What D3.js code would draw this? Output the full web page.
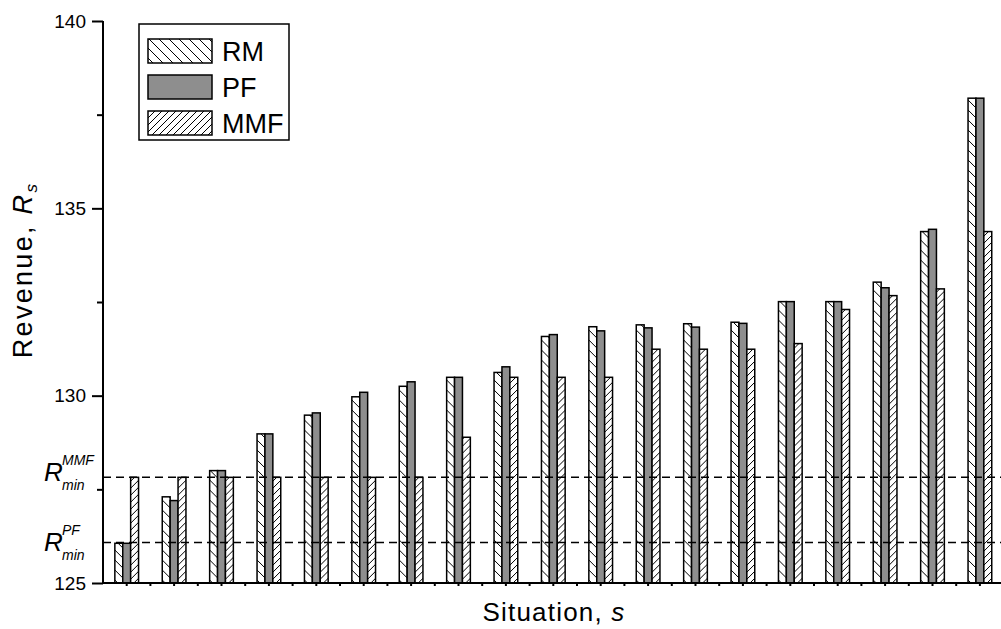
<!DOCTYPE html>
<html>
<head>
<meta charset="utf-8">
<script src="https://cdn.jsdelivr.net/npm/d3@7"></script>
<style>
  html, body { margin: 0; padding: 0; background: #fff; }
  svg { display: block; font-family: "Liberation Sans", Arial, sans-serif; }
</style>
</head>
<body>
<svg id="chart" width="1001" height="629"></svg>
<script>
// ---- data ----
const situations = d3.range(1, 20).map(String);
const seriesNames = ["RM", "PF", "MMF"];
const rmValues  = [126.06, 127.30, 128.00, 128.98, 129.48, 129.97, 130.25, 130.49, 130.62, 131.58, 131.84, 131.89, 131.92, 131.96, 132.51, 132.51, 133.03, 134.38, 137.94];
const pfValues  = [126.06, 127.20, 128.00, 128.98, 129.54, 130.09, 130.37, 130.49, 130.77, 131.63, 131.73, 131.81, 131.83, 131.93, 132.51, 132.51, 132.88, 134.44, 137.94];
const mmfValues = [127.82, 127.82, 127.82, 127.82, 127.82, 127.82, 127.82, 128.89, 130.49, 130.49, 130.49, 131.24, 131.24, 131.24, 131.39, 132.30, 132.67, 132.85, 134.38];
const yTickValues = [125, 130, 135, 140];
const yMinorTicks = [127.5, 132.5, 137.5];
const rminPF = 126.08;
const rminMMF = 127.82;

const seriesData = { RM: rmValues, PF: pfValues, MMF: mmfValues };

// ---- layout ----
const svg = d3.select("#chart");
const mLeft = 103, mRight = 1003.6, mTop = 21, mBottom = 583;

const x0 = d3.scaleBand().domain(situations).range([mLeft, mRight]).paddingInner(0.5).paddingOuter(0.25);
const x1 = d3.scaleBand().domain(seriesNames).range([0, x0.bandwidth()]);
const y = d3.scaleLinear().domain([125, 140]).range([mBottom, mTop]);

// ---- patterns ----
const defs = svg.append("defs");
const pRM = defs.append("pattern").attr("id", "hatchRM").attr("patternUnits", "userSpaceOnUse")
  .attr("width", 10).attr("height", 10);
pRM.append("rect").attr("width", 10).attr("height", 10).attr("fill", "#fff");
pRM.append("path").attr("d", "M0,0 L10,10 M-5,5 L5,15 M5,-5 L15,5")
  .attr("stroke", "#000").attr("stroke-width", 1);
const pMMF = defs.append("pattern").attr("id", "hatchMMF").attr("patternUnits", "userSpaceOnUse")
  .attr("width", 7).attr("height", 7);
pMMF.append("rect").attr("width", 7).attr("height", 7).attr("fill", "#fff");
pMMF.append("path").attr("d", "M0,7 L7,0 M-3.5,3.5 L3.5,-3.5 M3.5,10.5 L10.5,3.5")
  .attr("stroke", "#000").attr("stroke-width", 1);

const fills = { RM: "url(#hatchRM)", PF: "#8e8e8e", MMF: "url(#hatchMMF)" };

// ---- bars ----
const groups = svg.append("g").selectAll("g").data(situations).join("g")
  .attr("transform", d => `translate(${x0(d)},0)`);
groups.selectAll("rect")
  .data((d, i) => seriesNames.map(k => ({ key: k, value: seriesData[k][i] })))
  .join("rect")
  .attr("x", d => x1(d.key))
  .attr("width", x1.bandwidth())
  .attr("y", d => y(d.value))
  .attr("height", d => y(125) - y(d.value))
  .attr("fill", d => fills[d.key])
  .attr("stroke", "#000")
  .attr("stroke-width", 1.5);

// ---- dashed threshold lines ----
[rminMMF, rminPF].forEach(v => {
  svg.append("line")
    .attr("x1", mLeft).attr("x2", 1001)
    .attr("y1", y(v)).attr("y2", y(v))
    .attr("stroke", "#000").attr("stroke-width", 1.5)
    .attr("stroke-dasharray", "8,5");
});

// ---- y axis ----
const yAxis = svg.append("g").attr("transform", `translate(${mLeft},0)`)
  .call(d3.axisLeft(y).tickValues(yTickValues).tickSize(11).tickPadding(6).tickFormat(d3.format("d")));
yAxis.select(".domain").attr("d", `M0,${mTop}V${mBottom}`).attr("stroke-width", 2);
yAxis.selectAll(".tick line").attr("stroke-width", 2);
yAxis.selectAll(".tick text").attr("font-size", 19).attr("font-family", "Liberation Sans, Arial, sans-serif").attr("fill", "#000");
const yMinor = svg.append("g").attr("transform", `translate(${mLeft},0)`)
  .call(d3.axisLeft(y).tickValues(yMinorTicks).tickSize(6).tickFormat(""));
yMinor.select(".domain").remove();
yMinor.selectAll(".tick line").attr("stroke-width", 2);

// ---- x axis ----
const halfTicks = [];
situations.forEach(s => {
  halfTicks.push(x0(s) + x0.bandwidth() / 2);
  halfTicks.push(x0(s) + x0.bandwidth() / 2 + x0.step() / 2);
});
svg.append("line").attr("x1", mLeft - 1).attr("x2", 1001).attr("y1", mBottom).attr("y2", mBottom)
  .attr("stroke", "#000").attr("stroke-width", 2);
svg.append("g").selectAll("line").data(halfTicks.filter(t => t < 1001)).join("line")
  .attr("x1", d => d).attr("x2", d => d).attr("y1", mBottom).attr("y2", mBottom + 3)
  .attr("stroke", "#000").attr("stroke-width", 2);

// ---- axis titles ----
const xt = svg.append("text").attr("x", 554).attr("y", 621)
  .attr("text-anchor", "middle").attr("font-size", 26).attr("letter-spacing", 1.2).attr("fill", "#000");
xt.append("tspan").text("Situation, ");
xt.append("tspan").attr("font-style", "italic").text("s");

const yt = svg.append("text").attr("transform", "translate(32,270) rotate(-90)")
  .attr("text-anchor", "middle").attr("font-size", 27).attr("letter-spacing", 2.3).attr("fill", "#000");
yt.append("tspan").text("Revenue, ");
yt.append("tspan").attr("font-style", "italic").text("R");
yt.append("tspan").attr("font-style", "italic").attr("font-size", 17).attr("dy", 5).text("s");

// ---- R_min labels ----
function rminLabel(sup, yBase) {
  const g = svg.append("g").attr("font-style", "italic").attr("fill", "#000");
  g.append("text").attr("x", 44).attr("y", yBase).attr("font-size", 26).text("R");
  g.append("text").attr("x", 62).attr("y", yBase - 16).attr("font-size", 14).text(sup);
  g.append("text").attr("x", 62).attr("y", yBase + 9).attr("font-size", 14).text("min");
}
rminLabel("MMF", y(rminMMF) + 4);
rminLabel("PF", y(rminPF) + 8);

// ---- legend ----
const lg = svg.append("g");
lg.append("rect").attr("x", 139).attr("y", 24).attr("width", 150).attr("height", 116)
  .attr("fill", "#fff").attr("stroke", "#000").attr("stroke-width", 1.5);
seriesNames.forEach((k, i) => {
  const yy = 39 + i * 36;
  lg.append("rect").attr("x", 148).attr("y", yy).attr("width", 64).attr("height", 24)
    .attr("fill", fills[k]).attr("stroke", "#000").attr("stroke-width", 1.5);
  lg.append("text").attr("x", 222).attr("y", yy + 22).attr("font-size", 27).attr("fill", "#000").text(k);
});
</script>
</body>
</html>
